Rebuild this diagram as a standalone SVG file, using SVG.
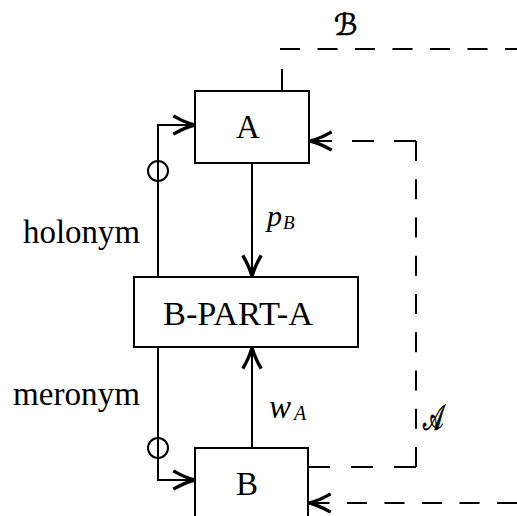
<svg xmlns="http://www.w3.org/2000/svg" width="517" height="516" viewBox="0 0 517 516">
  <style>
    .box { fill: #fff; stroke: #000; stroke-width: 2; }
    .ln { fill: none; stroke: #000; stroke-width: 2; }
    .lbl { font-family: "Liberation Serif", "Times New Roman", serif; font-size: 33px; fill: #000; }
    .mi { font-family: "Liberation Serif", "Times New Roman", serif; font-style: italic; fill: #000; }
    .cal { font-family: "DejaVu Serif", "DejaVu Sans", serif; font-size: 30px; fill: #000; stroke: #000; stroke-width: 0.7; }
  </style>
  <defs>
    <marker id="arr" markerUnits="userSpaceOnUse" orient="auto" refX="0" refY="0" markerWidth="30" markerHeight="30" viewBox="-16 -8 18 16" overflow="visible">
      <path d="M-13,-5.5 Q-5,-1 0,0 Q-5,1 -13,5.5" fill="none" stroke="#000" stroke-width="2"/>
    </marker>
  </defs>

  <g id="connectors">
    <!-- p_B: A down to B-PART-A -->
    <line class="ln" x1="252" y1="163" x2="252" y2="277" marker-end="url(#arr)"/>
    <!-- w_A: B up to B-PART-A -->
    <line class="ln" x1="252" y1="448" x2="252" y2="347" marker-end="url(#arr)"/>
    <!-- holonym -->
    <path class="ln" d="M158,277 V125 H195" marker-end="url(#arr)"/>
    <circle class="ln" cx="158" cy="171" r="10"/>
    <!-- meronym -->
    <path class="ln" d="M158,347 V480 H195" marker-end="url(#arr)"/>
    <circle class="ln" cx="158" cy="448" r="10"/>
    <!-- context B: from top of A -->
    <line class="ln" x1="282" y1="91" x2="282" y2="69"/>
    <line class="ln" x1="280" y1="49" x2="517" y2="49" stroke-dasharray="20 17.5"/>
    <!-- context A: from B round to A -->
    <line class="ln" x1="308" y1="467" x2="416" y2="467" stroke-dasharray="22 21"/>
    <line class="ln" x1="416" y1="467" x2="416" y2="141" stroke-dasharray="20 18.25"/>
    <line class="ln" x1="416" y1="141" x2="310" y2="141" stroke-dasharray="22 20" marker-end="url(#arr)"/>
    <!-- incoming dashed into B -->
    <line class="ln" x1="517" y1="503" x2="309" y2="503" stroke-dasharray="20 17.5" marker-end="url(#arr)"/>
  </g>

  <g id="node-A">
    <rect class="box" x="195" y="91" width="114" height="72"/>
    <text class="lbl" x="248" y="138" text-anchor="middle">A</text>
  </g>
  <g id="node-B-PART-A">
    <rect class="box" x="134" y="277" width="224" height="70"/>
    <text class="lbl" x="238" y="325" text-anchor="middle" textLength="150" lengthAdjust="spacingAndGlyphs">B-PART-A</text>
  </g>
  <g id="node-B">
    <rect class="box" x="195" y="448" width="113" height="90"/>
    <text class="lbl" x="247" y="495" text-anchor="middle">B</text>
  </g>

  <g id="labels">
    <text class="lbl" x="23" y="243" textLength="117" lengthAdjust="spacingAndGlyphs">holonym</text>
    <text class="lbl" x="13" y="405" textLength="127" lengthAdjust="spacingAndGlyphs">meronym</text>
    <text class="mi" x="267" y="226" font-size="30">p</text>
    <text class="mi" x="283" y="229" font-size="19">B</text>
    <text class="mi" x="269" y="418" font-size="33">w</text>
    <text class="mi" x="294" y="420" font-size="20">A</text>
    <text class="cal" transform="translate(423,430) scale(0.72,1.2)">𝒜</text>
    <text class="cal" x="334" y="35">ℬ</text>
  </g>
</svg>
